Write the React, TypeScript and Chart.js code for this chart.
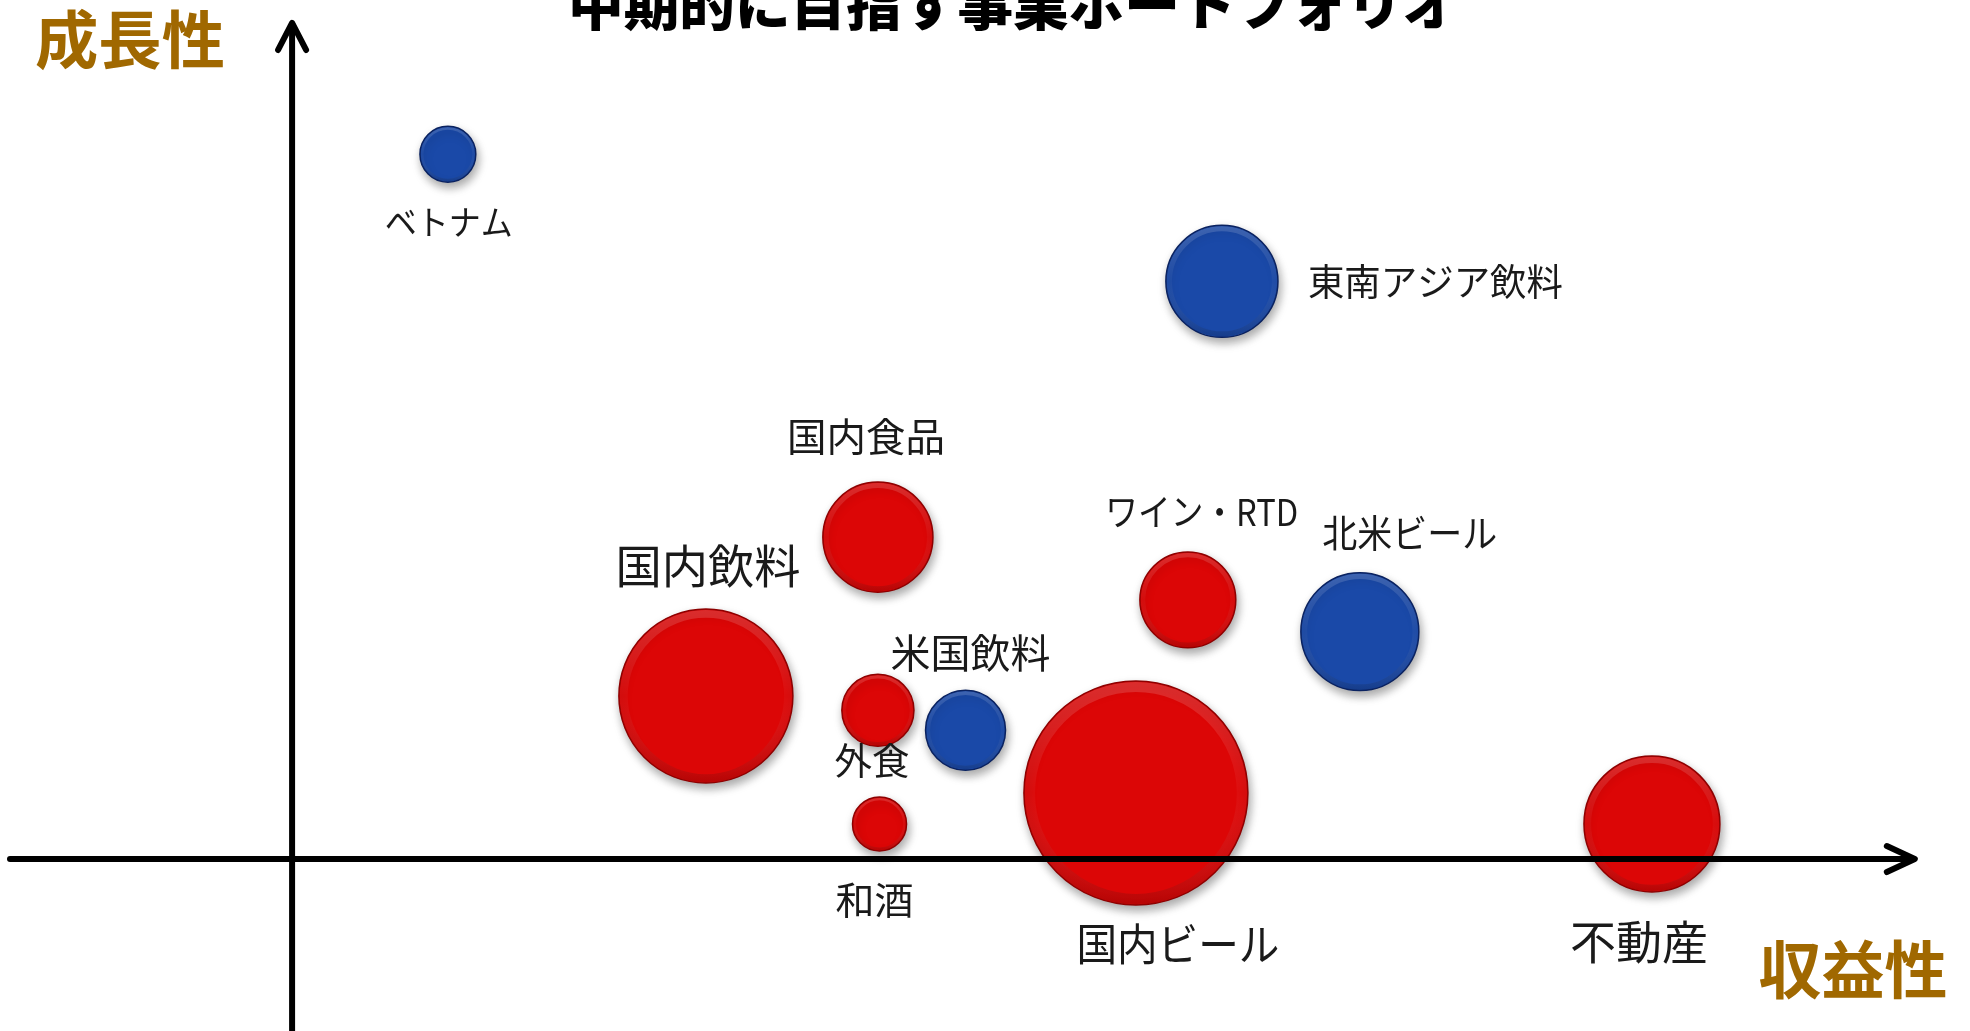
import React, { useEffect, useRef } from "react";
import { Chart, registerables } from "chart.js";

Chart.register(...registerables);

// ---- data ----
const businesses = ["ベトナム", "東南アジア飲料", "国内食品", "国内飲料", "外食", "米国飲料", "和酒", "国内ビール", "ワイン・RTD", "北米ビール", "不動産"];
const profitability = [9.6, 57.3, 36.1, 25.5, 36.1, 41.5, 36.2, 52.0, 55.2, 65.8, 83.8];
const growth = [84.3, 69.1, 38.5, 19.5, 17.8, 15.4, 4.2, 7.9, 31.0, 27.2, 4.2];
const businessScale = [7.8, 31.4, 30.3, 75.7, 13, 16, 7.3, 125.4, 23, 34.8, 46.2];
const region = ["overseas", "overseas", "domestic", "domestic", "domestic", "overseas", "domestic", "domestic", "domestic", "overseas", "domestic"];
const chartTitle = "中期的に目指す事業ポートフォリオ";
const yAxisTitle = "成長性";
const xAxisTitle = "収益性";

// ---- layout / style (not data) ----
const labelLayout = [
  { dx: 1, dy: 68, size: 34, width: 128, align: "center" },
  { dx: 86, dy: 1, size: 37, width: 255, align: "left" },
  { dx: -12, dy: -101, size: 39, width: 158, align: "center" },
  { dx: 2, dy: -130, size: 46, width: 185, align: "center" },
  { dx: -6, dy: 51, size: 37, width: 75, align: "center" },
  { dx: 5, dy: -77, size: 40, width: 160, align: "center" },
  { dx: -5, dy: 76, size: 38, width: 78, align: "center" },
  { dx: 42, dy: 151, size: 44, width: 203, align: "center" },
  { dx: 14, dy: -88, size: 37, width: 193, align: "center" },
  { dx: 50, dy: -99, size: 38, width: 175, align: "center" },
  { dx: -13, dy: 118, size: 46, width: 138, align: "center" },
];
const colors: Record<string, { fill: string; border: string }> = {
  domestic: { fill: "#DC0606", border: "#8E0000" },
  overseas: { fill: "#1A49A8", border: "#0A2260" },
};
const JP = '"Noto Sans CJK JP", "Noto Sans", sans-serif';

function fitText(ctx: CanvasRenderingContext2D, text: string, x: number, y: number, width: number, align: string) {
  const m = ctx.measureText(text).width;
  const k = width / m;
  ctx.save();
  ctx.textAlign = "left";
  const left = align === "left" ? x : x - width / 2;
  ctx.translate(left, y);
  ctx.scale(k, 1);
  ctx.fillText(text, 0, 0);
  ctx.restore();
}

const shadowPlugin = {
  id: "bubbleShadow",
  beforeDatasetsDraw(chart: any) {
    const ctx = chart.ctx;
    ctx.save();
    ctx.shadowColor = "rgba(0,0,0,0.35)";
    ctx.shadowBlur = 10;
    ctx.shadowOffsetX = 2;
    ctx.shadowOffsetY = 5;
  },
  afterDatasetsDraw(chart: any) {
    const ctx = chart.ctx;
    ctx.restore();
    chart.data.datasets.forEach((_: any, di: number) => {
      const meta = chart.getDatasetMeta(di);
      meta.data.forEach((el: any) => {
        const r = el.options.radius;
        const { x, y } = el;
        const w = Math.max(2, r * 0.09);
        const g = ctx.createLinearGradient(x, y - r, x, y + r);
        g.addColorStop(0, "rgba(255,255,255,0.16)");
        g.addColorStop(0.5, "rgba(255,255,255,0.03)");
        g.addColorStop(1, "rgba(0,0,0,0.16)");
        ctx.save();
        ctx.beginPath();
        ctx.arc(x, y, r - w / 2 - 1, 0, Math.PI * 2);
        ctx.lineWidth = w;
        ctx.strokeStyle = g;
        ctx.stroke();
        ctx.restore();
      });
    });
  },
};

const decorPlugin = {
  id: "decor",
  afterDraw(chart: any) {
    const ctx = chart.ctx;
    const xs = chart.scales.x;
    const ys = chart.scales.y;
    const x0 = xs.getPixelForValue(0);
    const y0 = ys.getPixelForValue(0);
    const xEnd = xs.getPixelForValue(100);
    const yTop = ys.getPixelForValue(100);
    const area = chart.chartArea;

    ctx.save();
    ctx.strokeStyle = "#000";
    ctx.lineWidth = 6;
    ctx.lineCap = "round";
    ctx.lineJoin = "round";
    ctx.beginPath();
    ctx.moveTo(area.left + 10, y0);
    ctx.lineTo(xEnd - 3, y0);
    ctx.stroke();
    ctx.beginPath();
    ctx.moveTo(xEnd - 28, y0 - 13);
    ctx.lineTo(xEnd, y0);
    ctx.lineTo(xEnd - 28, y0 + 13);
    ctx.stroke();
    ctx.beginPath();
    ctx.moveTo(x0, area.bottom + 5);
    ctx.lineTo(x0, yTop + 3);
    ctx.stroke();
    ctx.beginPath();
    ctx.moveTo(x0 - 14, yTop + 27);
    ctx.lineTo(x0, yTop);
    ctx.lineTo(x0 + 14, yTop + 27);
    ctx.stroke();

    ctx.fillStyle = "#1a1a1a";
    ctx.textBaseline = "middle";
    chart.data.datasets.forEach((ds: any, di: number) => {
      const meta = chart.getDatasetMeta(di);
      meta.data.forEach((el: any, i: number) => {
        const idx = ds.indices[i];
        const L = labelLayout[idx];
        ctx.font = `400 ${L.size}px ${JP}`;
        fitText(ctx, businesses[idx], el.x + L.dx, el.y + L.dy, L.width, L.align);
      });
    });

    ctx.fillStyle = "#000";
    ctx.font = `900 55px ${JP}`;
    fitText(ctx, chartTitle, 1013, 4, 890, "center");

    ctx.fillStyle = "#A06800";
    ctx.font = `700 63px ${JP}`;
    fitText(ctx, yAxisTitle, 130, 39, 190, "center");
    fitText(ctx, xAxisTitle, 1853, 969, 189, "center");
    ctx.restore();
  },
};

export default function App() {
  const ref = useRef<HTMLCanvasElement | null>(null);
  useEffect(() => {
    if (!ref.current) return;
    const groups = ["domestic", "overseas"];
    const datasets = groups.map((g) => {
      const indices = businesses.map((_, i) => i).filter((i) => region[i] === g);
      return {
        label: g,
        indices,
        data: indices.map((i) => ({ x: profitability[i], y: growth[i], r: Math.sqrt(businessScale[i]) * 10 })),
        backgroundColor: colors[g].fill,
        borderColor: colors[g].border,
        borderWidth: 1.5,
        hoverRadius: 0,
        clip: false,
      };
    });
    const chart = new Chart(ref.current, {
      type: "bubble",
      data: { datasets } as any,
      options: {
        responsive: false,
        animation: false,
        events: [],
        layout: { padding: 0, autoPadding: false },
        plugins: { legend: { display: false }, tooltip: { enabled: false }, title: { display: false } },
        scales: {
          x: { type: "linear", display: false, min: -18, max: 103.4 },
          y: { type: "linear", display: false, min: -20.57, max: 102.75 },
        },
      },
      plugins: [shadowPlugin, decorPlugin],
    });
    return () => chart.destroy();
  }, []);
  return (
    <div style={{ position: "absolute", left: 0, top: 0, width: 1970, height: 1031, background: "#fff" }}>
      <canvas ref={ref} width={1970} height={1031} style={{ display: "block" }} />
    </div>
  );
}
